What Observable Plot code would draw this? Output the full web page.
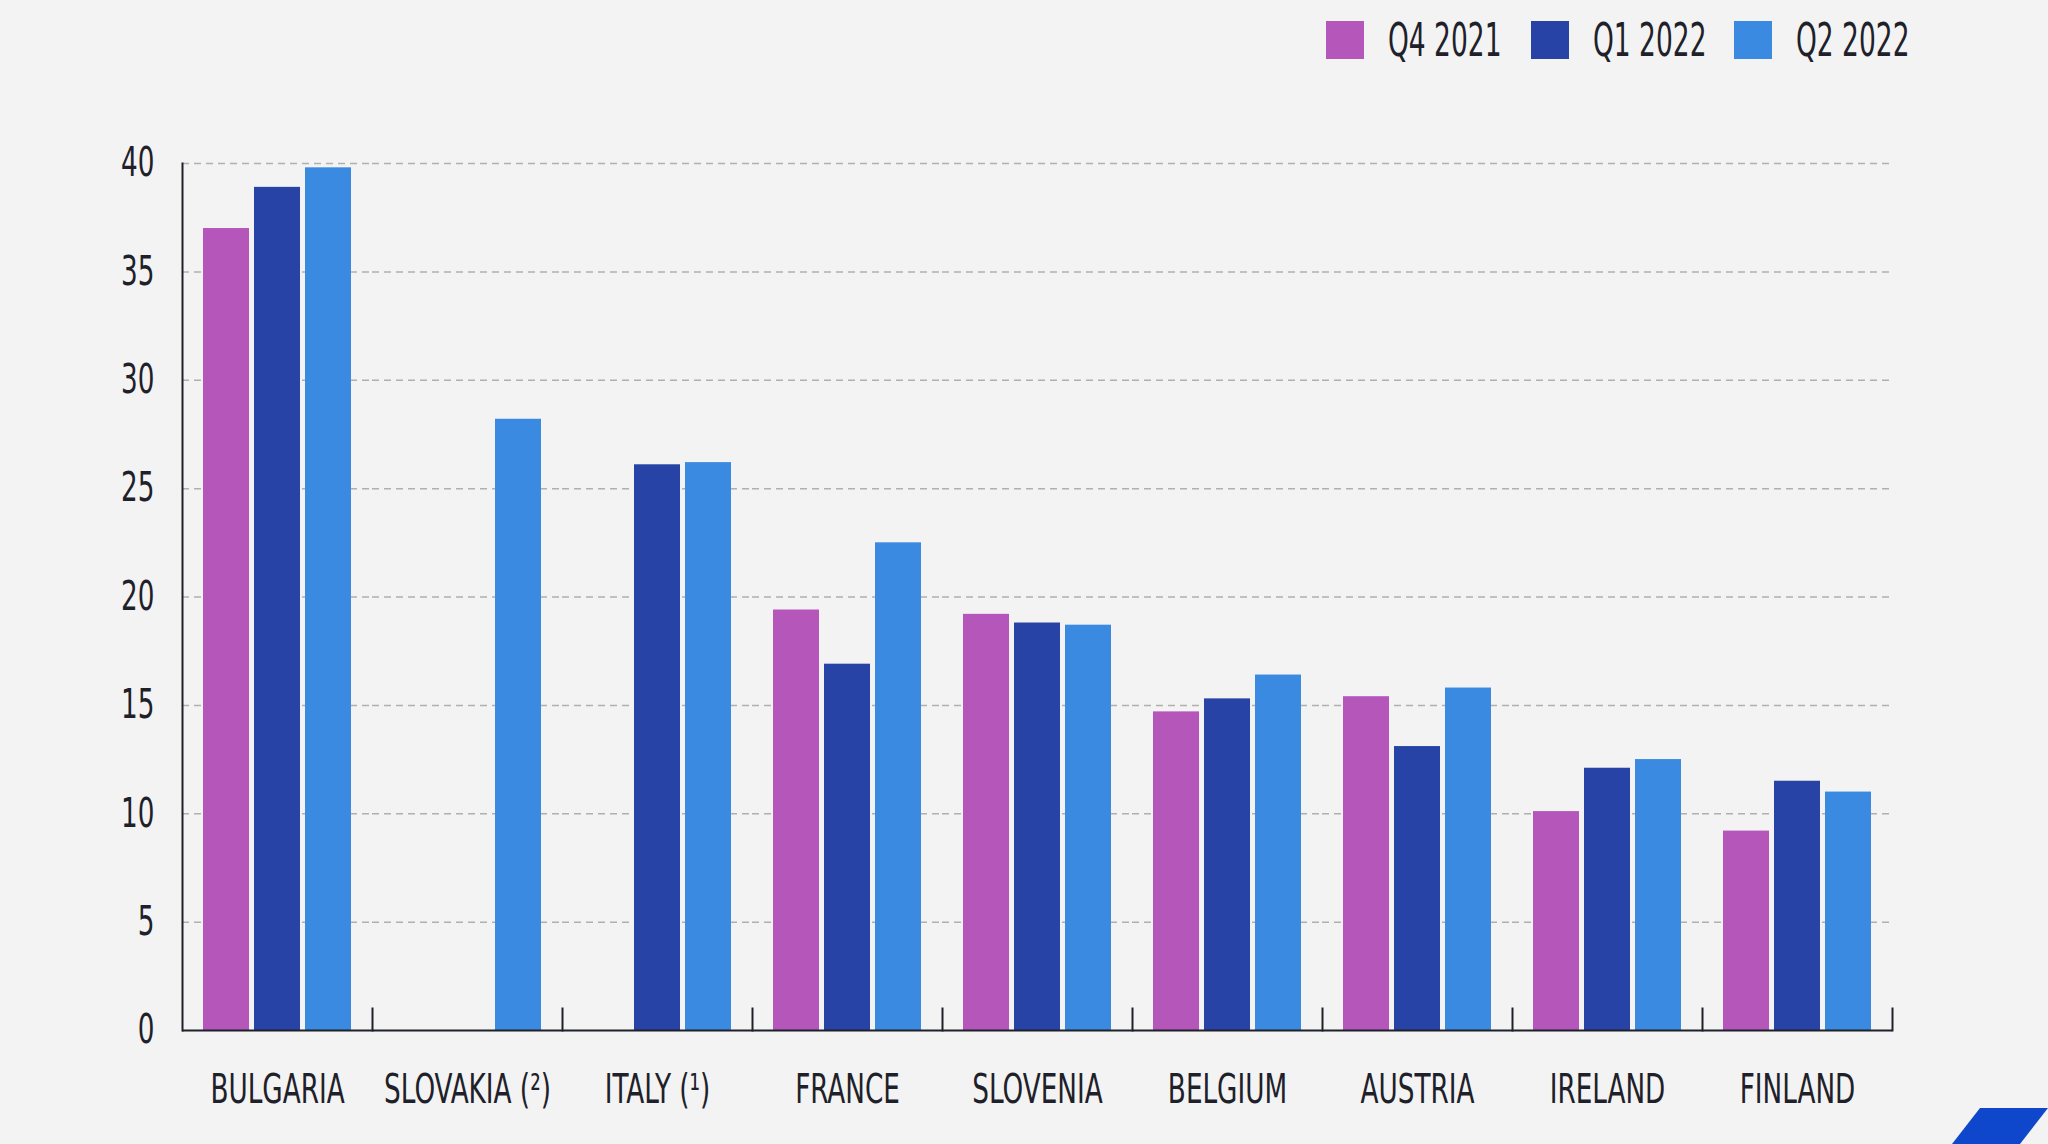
<!DOCTYPE html>
<html>
<head>
<meta charset="utf-8">
<script src="https://cdn.jsdelivr.net/npm/d3@7"></script>
<script src="https://cdn.jsdelivr.net/npm/@observablehq/plot@0.6"></script>
<style>
  html, body { margin: 0; padding: 0; background: #f3f3f3; width: 2048px; height: 1144px; overflow: hidden;
    font-family: "Liberation Sans Narrow", "Arial Narrow", "DejaVu Sans Condensed", sans-serif; color: #1e2129; }
  #legend { position: relative; height: 80px; }
  .item { position: absolute; top: 21px; height: 38px; display: flex; align-items: center; white-space: nowrap; }
  .sw { width: 38px; height: 38px; margin-right: 24px; flex: none; }
  .lab { display: inline-block; font-size: 46px; line-height: 38px; transform: scaleX(0.64); transform-origin: left center; }
  #logo { position: absolute; left: 1948px; top: 1108px; width: 100px; height: 36px; background: #0e47cb;
    clip-path: polygon(32px 0, 100px 0, 72px 36px, 4px 36px); }
</style>
</head>
<body>
<div id="legend"></div>
<div id="chart"></div>
<div id="logo"></div>
<script>
// ---- data ----
const countries = ["BULGARIA", "SLOVAKIA (²)", "ITALY (¹)", "FRANCE", "SLOVENIA", "BELGIUM", "AUSTRIA", "IRELAND", "FINLAND"];
const quarters = ["Q4 2021", "Q1 2022", "Q2 2022"];
const q4_2021 = [37.0, null, null, 19.4, 19.2, 14.7, 15.4, 10.1, 9.2];
const q1_2022 = [38.9, null, 26.1, 16.9, 18.8, 15.3, 13.1, 12.1, 11.5];
const q2_2022 = [39.8, 28.2, 26.2, 22.5, 18.7, 16.4, 15.8, 12.5, 11.0];
const yTicks = [0, 5, 10, 15, 20, 25, 30, 35, 40];
const colors = ["#b556bb", "#2843a6", "#3a8ae2"];

const series = [q4_2021, q1_2022, q2_2022];
const rows = [];
countries.forEach((c, i) => {
  quarters.forEach((q, j) => {
    const v = series[j][i];
    if (v != null) rows.push({country: c, quarter: q, value: v});
  });
});

// ---- legend ----
const legendLefts = [1326, 1531, 1734];
const legend = document.getElementById("legend");
quarters.forEach((q, j) => {
  const it = document.createElement("div");
  it.className = "item";
  it.style.left = legendLefts[j] + "px";
  it.innerHTML = `<span class="sw" style="background:${colors[j]}"></span><span class="lab">${q}</span>`;
  legend.appendChild(it);
});

// ---- chart ----
const W = 2048, H = 1064;
const mTop = 83, mBottom = 114, mLeft = 181, mRight = 156;
const innerH = H - mTop - mBottom;
const ink = "#1e2129";

const chart = Plot.plot({
  width: W,
  height: H,
  marginTop: mTop,
  marginBottom: mBottom,
  marginLeft: mLeft,
  marginRight: mRight,
  style: {background: "transparent", color: ink, fontFamily: '"Liberation Sans Narrow", "Arial Narrow", "DejaVu Sans Condensed", sans-serif'},
  fx: {domain: countries, padding: 0, label: null},
  x: {domain: quarters, paddingInner: 0.098, paddingOuter: 0.41, axis: null},
  y: {domain: [0, 40], label: null},
  color: {domain: quarters, range: colors},
  marks: [
    Plot.ruleY(yTicks.filter(d => d > 0), {stroke: "#b0b0b0", strokeWidth: 1.5, strokeDasharray: "7,5"}),
    Plot.barY(rows, {fx: "country", x: "quarter", y: "value", fill: "quarter"}),
    Plot.ruleY([0], {stroke: ink, strokeWidth: 2}),
    Plot.frame({anchor: "left", fx: countries[0], stroke: ink, strokeWidth: 2}),
    Plot.frame({anchor: "right", insetTop: innerH - 22, stroke: ink, strokeWidth: 2}),
    Plot.axisY({ticks: yTicks, tickSize: 0, tickPadding: 28, fontSize: 40, label: null}),
    Plot.axisFx({anchor: "bottom", tickSize: 0, tickPadding: 44, fontSize: 40, label: null})
  ]
});
document.getElementById("chart").appendChild(chart);

// condense axis text horizontally to mimic the condensed typeface
d3.select(chart).selectAll("text").each(function() {
  const w = this.getComputedTextLength();
  if (w > 0) {
    this.setAttribute("textLength", (w * 0.73).toFixed(1));
    this.setAttribute("lengthAdjust", "spacingAndGlyphs");
  }
});
</script>
</body>
</html>
